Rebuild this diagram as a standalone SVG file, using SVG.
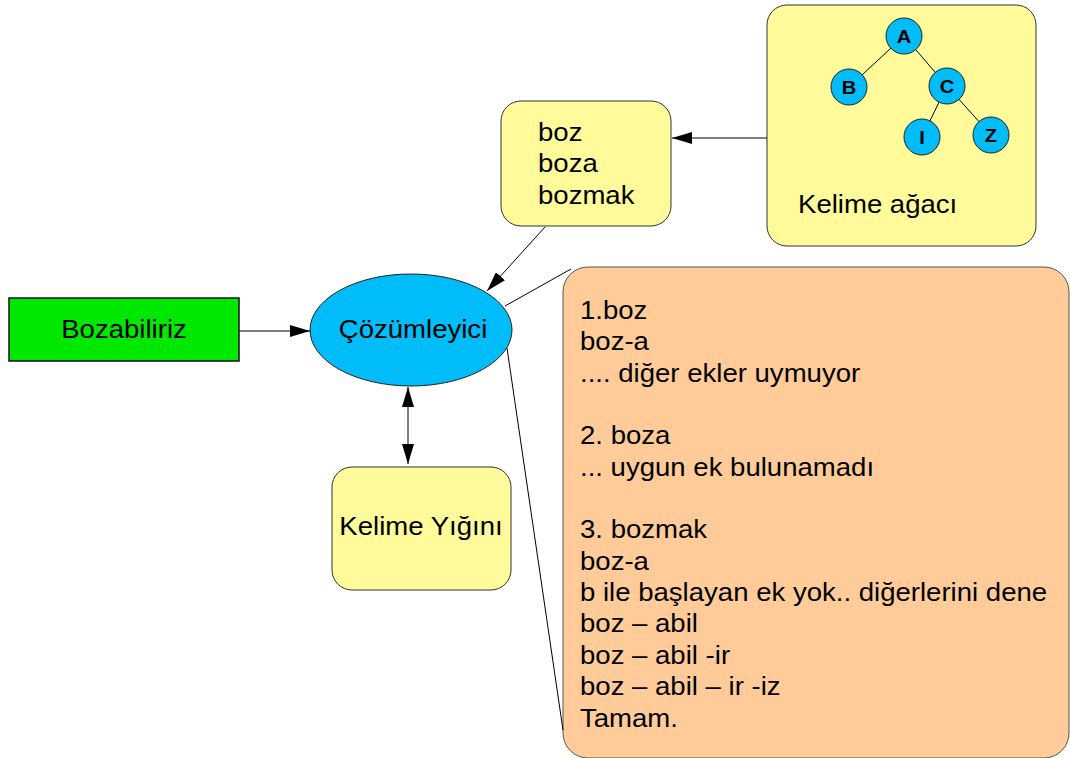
<svg xmlns="http://www.w3.org/2000/svg" width="1070" height="758" viewBox="0 0 1070 758">
  <style>
    .lbl { font-family: "Liberation Sans", Arial, sans-serif; font-size: 26px; fill: #000; }
    .mid { text-anchor: middle; }
    .leaf { font-family: "Liberation Sans", Arial, sans-serif; font-size: 19px; font-weight: bold; text-anchor: middle; fill: #000; }
    .note { fill: #FFFB9B; stroke: #333; stroke-width: 1; }
    .wire { stroke: #000; stroke-width: 1; fill: none; }
    .node { fill: #00BCF8; stroke: #222; stroke-width: 1; }
  </style>
  <defs>
    <marker id="tip" markerUnits="userSpaceOnUse" markerWidth="20" markerHeight="12" refX="20" refY="6" orient="auto-start-reverse">
      <path d="M0,0 L20,6 L0,12 z" fill="#000"/>
    </marker>
  </defs>

  <!-- input word -->
  <g id="input">
    <rect x="9" y="298" width="230" height="63" fill="#00E800" stroke="#111" stroke-width="1.5"/>
    <text class="lbl mid" transform="translate(124 338) scale(1.06 1)">Bozabiliriz</text>
  </g>

  <!-- analyser -->
  <g id="analyser">
    <ellipse cx="411" cy="330" rx="101" ry="56" fill="#00BCF8" stroke="#222" stroke-width="1"/>
    <text class="lbl mid" transform="translate(413 338) scale(1.06 1)">Çözümleyici</text>
  </g>

  <!-- word stack -->
  <g id="stack">
    <rect class="note" x="332" y="467" width="179" height="123" rx="20" ry="20"/>
    <text class="lbl mid" transform="translate(421 535) scale(1.06 1)">Kelime Yığını</text>
  </g>

  <!-- candidate roots -->
  <g id="candidates">
    <rect class="note" x="501" y="101" width="170" height="125" rx="20" ry="20"/>
    <g transform="translate(538 0) scale(1.06 1)">
      <text class="lbl" x="0" y="141">boz</text>
      <text class="lbl" x="0" y="172">boza</text>
      <text class="lbl" x="0" y="204">bozmak</text>
    </g>
  </g>

  <!-- word tree -->
  <g id="tree">
    <rect class="note" x="767" y="5" width="269" height="241" rx="20" ry="20"/>
    <g class="wire">
      <line x1="904" y1="36" x2="849" y2="87"/>
      <line x1="904" y1="36" x2="947" y2="86"/>
      <line x1="947" y1="86" x2="922" y2="137"/>
      <line x1="947" y1="86" x2="991" y2="135"/>
    </g>
    <circle class="node" cx="904" cy="36" r="18"/>
    <circle class="node" cx="849" cy="87" r="18"/>
    <circle class="node" cx="947" cy="86" r="18"/>
    <circle class="node" cx="922" cy="137" r="18"/>
    <circle class="node" cx="991" cy="135" r="18"/>
    <text class="leaf" transform="translate(904 43) scale(1.06 1)">A</text>
    <text class="leaf" transform="translate(849 94) scale(1.06 1)">B</text>
    <text class="leaf" transform="translate(947 93) scale(1.06 1)">C</text>
    <text class="leaf" transform="translate(922 144) scale(1.06 1)">I</text>
    <text class="leaf" transform="translate(991 142) scale(1.06 1)">Z</text>
    <text class="lbl" transform="translate(798 213) scale(1.06 1)">Kelime ağacı</text>
  </g>

  <!-- trace callout -->
  <g id="trace">
    <rect x="563" y="267" width="506" height="491" rx="25" ry="25" fill="#FFCC99" stroke="#555" stroke-width="1"/>
    <g transform="translate(580 0) scale(1.06 1)">
      <text class="lbl" x="0" y="319">1.boz</text>
      <text class="lbl" x="0" y="350">boz-a</text>
      <text class="lbl" x="0" y="382">.... diğer ekler uymuyor</text>
      <text class="lbl" x="0" y="444">2. boza</text>
      <text class="lbl" x="0" y="476">... uygun ek bulunamadı</text>
      <text class="lbl" x="0" y="538">3. bozmak</text>
      <text class="lbl" x="0" y="570">boz-a</text>
      <text class="lbl" x="0" y="601">b ile başlayan ek yok.. diğerlerini dene</text>
      <text class="lbl" x="0" y="632">boz – abil</text>
      <text class="lbl" x="0" y="664">boz – abil -ir</text>
      <text class="lbl" x="0" y="695">boz – abil – ir -iz</text>
      <text class="lbl" x="0" y="727">Tamam.</text>
    </g>
  </g>

  <!-- connectors -->
  <g id="connectors" class="wire">
    <line x1="239" y1="331" x2="310" y2="331" marker-end="url(#tip)"/>
    <line x1="545" y1="227" x2="487" y2="291" marker-end="url(#tip)"/>
    <line x1="767" y1="138" x2="672" y2="138" marker-end="url(#tip)"/>
    <line x1="408" y1="387" x2="408" y2="464" marker-start="url(#tip)" marker-end="url(#tip)"/>
    <line x1="505" y1="306" x2="571" y2="269"/>
    <line x1="507" y1="348" x2="563" y2="730"/>
  </g>
</svg>
